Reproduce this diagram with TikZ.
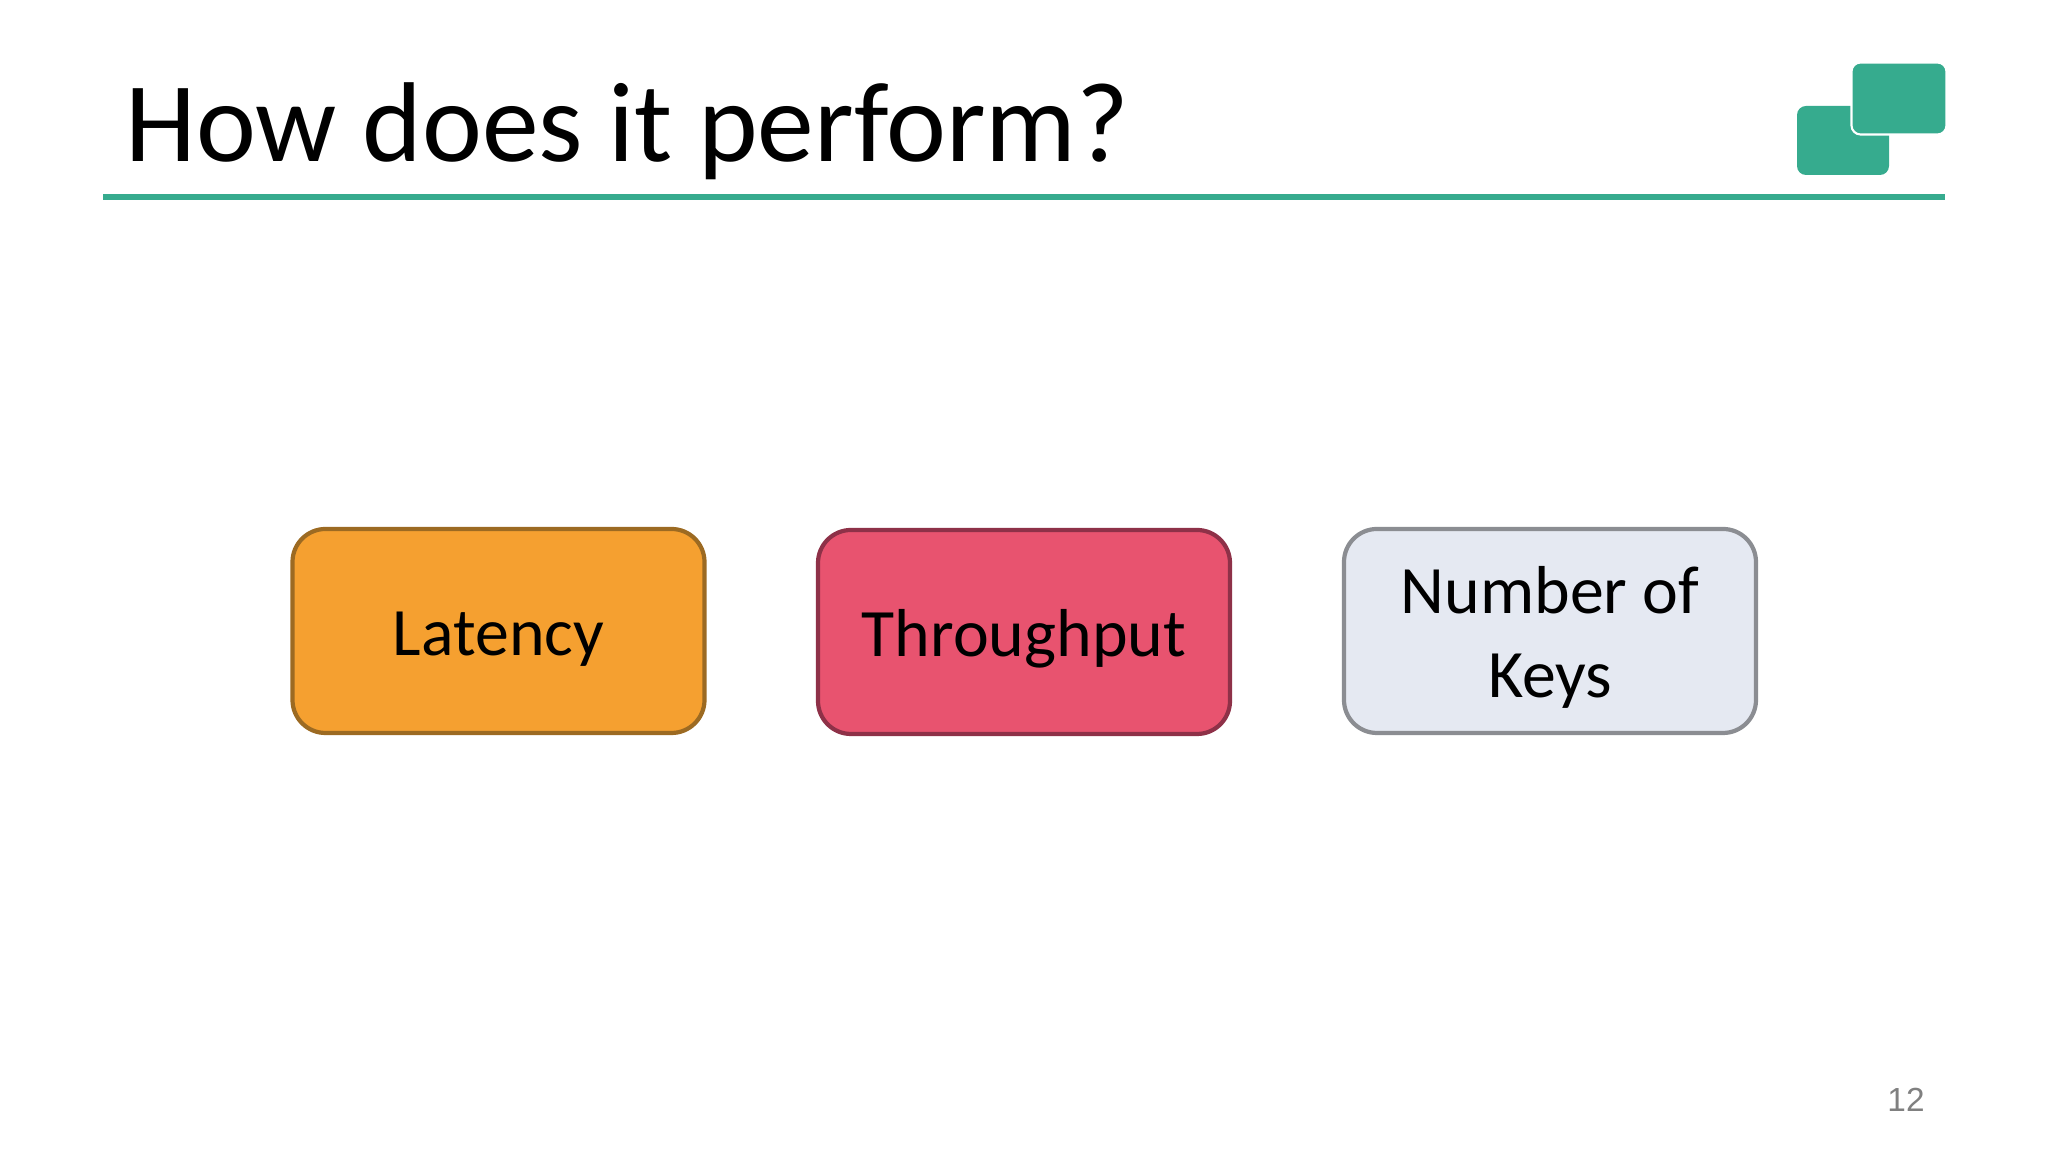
\documentclass[tikz,border=0pt]{standalone}
\usepackage{fontspec}
\setmainfont{Carlito}
\newfontfamily\pagefont{Liberation Sans}
\definecolor{slategreen}{HTML}{36AB8E}
\definecolor{latencyfill}{HTML}{F5A030}
\definecolor{latencyline}{HTML}{9C6A22}
\definecolor{throughfill}{HTML}{E8536F}
\definecolor{throughline}{HTML}{8E3148}
\definecolor{keysfill}{HTML}{E5E9F2}
\definecolor{keysline}{HTML}{8B8D92}
\tikzset{
  metric/.style={draw,rectangle,rounded corners=0.33cm,line width=1.2pt,minimum width=4.12cm,minimum height=2.04cm,align=center,inner sep=0pt,text height=13.9pt,text depth=0pt,font=\fontsize{19.3}{24}\selectfont},
  logobox/.style={rectangle,rounded corners=0.09cm,fill=slategreen,minimum width=0.92cm,minimum height=0.69cm,inner sep=0pt}
}

\begin{document}
\begin{tikzpicture}
  \useasboundingbox (0,0) rectangle (20.48,11.52);

  \node[anchor=base west,inner sep=0pt,font=\fontsize{32.3}{36}\selectfont] (title) at (1.25,9.90) {How does it perform?};

  \coordinate (ruleL) at (1.03,9.55);
  \coordinate (ruleR) at (19.45,9.55);
  \draw[slategreen,line width=1.6pt] (ruleL) -- (ruleR);

  \node[logobox] (logoA) at (18.43,10.115) {};
  \node[logobox,draw=white,line width=0.6pt,minimum width=0.95cm,minimum height=0.72cm] (logoB) at (18.99,10.535) {};

  \node[metric,fill=latencyfill,draw=latencyline] (latency) at (4.985,5.21) {Latency};
  \node[metric,fill=throughfill,draw=throughline] (through) at (10.24,5.20) {Throughput};
  \node[metric,fill=keysfill,draw=keysline,text height=37.9pt] (keys) at (15.50,5.21) {Number of\\Keys};

  \node[text=gray,inner sep=0pt,font=\pagefont\fontsize{9.5}{12}\selectfont] (page) at (19.06,0.52) {12};
\end{tikzpicture}
\end{document}
